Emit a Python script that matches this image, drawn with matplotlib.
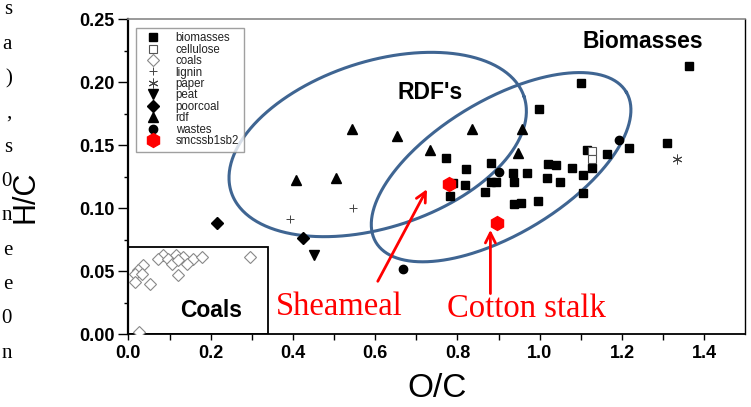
import numpy as np
import matplotlib
matplotlib.use("Agg")
import matplotlib.pyplot as plt

# data
biomass_x = [1.363, 1.101, 0.999, 1.217, 1.310, 1.164, 1.115, 0.773, 0.821, 0.882,
             0.936, 0.970, 1.019, 1.040, 1.079, 1.128, 1.106, 1.018, 1.050, 0.938,
             0.882, 0.894, 0.819, 0.788, 0.866, 0.781, 1.106, 0.938, 0.955, 0.995]
biomass_y = [0.213, 0.199, 0.179, 0.148, 0.152, 0.143, 0.146, 0.140, 0.131, 0.136,
             0.128, 0.128, 0.135, 0.134, 0.132, 0.132, 0.126, 0.124, 0.121, 0.121,
             0.121, 0.121, 0.118, 0.120, 0.113, 0.110, 0.112, 0.103, 0.104, 0.106]
cellulose_x = [1.128, 1.128]
cellulose_y = [0.145, 0.139]
coal_x = [0.084, 0.116, 0.072, 0.096, 0.133, 0.157, 0.179, 0.142, 0.106, 0.121,
          0.035, 0.023, 0.016, 0.033, 0.016, 0.052, 0.295, 0.025, 0.121]
coal_y = [0.063, 0.063, 0.060, 0.060, 0.061, 0.060, 0.061, 0.056, 0.056, 0.047,
          0.055, 0.051, 0.048, 0.048, 0.041, 0.040, 0.061, 0.002, 0.059]
lignin_x = [0.392, 0.545]
lignin_y = [0.091, 0.100]
paper_x = [1.334]
paper_y = [0.139]
peat_x = [0.451]
peat_y = [0.063]
poorcoal_x = [0.215, 0.424]
poorcoal_y = [0.088, 0.076]
rdf_x = [0.543, 0.652, 0.407, 0.504, 0.836, 0.958, 0.734, 0.948]
rdf_y = [0.163, 0.157, 0.122, 0.124, 0.163, 0.163, 0.146, 0.144]
wastes_x = [1.193, 0.900, 0.667]
wastes_y = [0.154, 0.129, 0.052]
sample_x = [0.779, 0.897]
sample_y = [0.119, 0.088]

fig = plt.figure(figsize=(7.51, 4.07), dpi=100)
ax = fig.add_axes([0.171, 0.179, 0.8216, 0.774])
ax.set_xlim(0, 1.5)
ax.set_ylim(0, 0.25)

ax.plot(biomass_x, biomass_y, 's', ms=5.5, color='black', label='biomasses', zorder=3)
ax.plot(cellulose_x, cellulose_y, 's', ms=5.5, mfc='white', mec='#555555', mew=0.8,
        label='cellulose', zorder=3)
ax.plot(coal_x, coal_y, 'D', ms=6, mfc='white', mec='#888888', mew=0.8, label='coals', zorder=3)
ax.plot(lignin_x, lignin_y, '+', ms=6, color='#444444', mew=0.7, label='lignin', zorder=3)
ax.plot(paper_x, paper_y, marker=(6, 2, 0), ls='none', ms=7, color='#444444', mew=0.7,
        label='paper', zorder=3)
ax.plot(peat_x, peat_y, 'v', ms=7, color='black', label='peat', zorder=3)
ax.plot(poorcoal_x, poorcoal_y, 'D', ms=6, color='black', label='poorcoal', zorder=3)
ax.plot(rdf_x, rdf_y, '^', ms=7, color='black', label='rdf', zorder=3)
ax.plot(wastes_x, wastes_y, 'o', ms=6, color='black', label='wastes', zorder=3)
ax.plot(sample_x, sample_y, 'h', ms=10, color='red', label='smcssb1sb2', zorder=4)


def ellipse(cx, cy, a, b, ang):
    # a, b in screen pixels, ang in screen degrees
    pos = ax.get_position()
    wpx = pos.width * fig.get_figwidth() * fig.dpi
    hpx = pos.height * fig.get_figheight() * fig.dpi
    kx = 1.5 / wpx
    ky = 0.25 / hpx
    t = np.linspace(0, 2 * np.pi, 400)
    p = np.radians(ang)
    ex = cx + kx * (a * np.cos(t) * np.cos(p) - b * np.sin(t) * np.sin(p))
    ey = cy + ky * (a * np.cos(t) * np.sin(p) + b * np.sin(t) * np.cos(p))
    ax.plot(ex, ey, color='#3f6592', lw=2.2, zorder=2)


ellipse(0.606, 0.1505, 154, 83, 18)
ellipse(0.906, 0.1325, 146, 67, 31)

# coals box
ax.add_patch(plt.Rectangle((0, 0), 0.339, 0.069, fill=False, ec='black', lw=1.3, zorder=2))

ax.text(0.734, 0.192, "RDF's", fontsize=16.5, fontweight='bold', family='Liberation Sans',
        ha='center', va='center')
ax.text(1.251, 0.232, "Biomasses", fontsize=16.5, fontweight='bold', family='Liberation Sans',
        ha='center', va='center')
ax.text(0.201, 0.019, "Coals", fontsize=16.5, fontweight='bold', family='Liberation Sans',
        ha='center', va='center')

ax.annotate('', xy=(0.729, 0.117), xytext=(0.603, 0.040),
            arrowprops=dict(arrowstyle='->', color='red', lw=2, mutation_scale=18))
ax.annotate('', xy=(0.880, 0.085), xytext=(0.880, 0.030),
            arrowprops=dict(arrowstyle='->', color='red', lw=2, mutation_scale=18))
ax.text(0.512, 0.022, "Sheameal", fontsize=23.5, color='red', family='Liberation Serif',
        ha='center', va='center')
ax.text(0.968, 0.020, "Cotton stalk", fontsize=23.5, color='red', family='Liberation Serif',
        ha='center', va='center')

ax.set_xticks(np.arange(0, 1.41, 0.2))
ax.set_xticks(np.arange(0.1, 1.5, 0.2), minor=True)
ax.set_yticks(np.arange(0, 0.251, 0.05))
ax.set_yticks(np.arange(0.025, 0.25, 0.05), minor=True)
ax.set_xticklabels(['%.1f' % v for v in np.arange(0, 1.41, 0.2)])
ax.set_yticklabels(['%.2f' % v for v in np.arange(0, 0.251, 0.05)])
for lab in ax.get_xticklabels() + ax.get_yticklabels():
    lab.set_fontweight('bold')
    lab.set_family('Liberation Sans')
    lab.set_fontsize(13)
ax.tick_params(axis='x', which='both', direction='out', length=4, width=1, pad=4)
ax.tick_params(axis='y', which='major', direction='out', length=7, width=1, pad=3)
ax.tick_params(axis='y', which='minor', direction='out', length=3, width=1)

ax.spines['left'].set_linewidth(1.6)
ax.spines['bottom'].set_linewidth(1.3)
ax.spines['right'].set_linewidth(1.0)
ax.spines['top'].set_linewidth(1.2)
ax.spines['top'].set_color('#888888')

ax.set_xlabel('O/C', fontsize=24, family='Liberation Sans', va='center')
ax.set_ylabel('H/C', fontsize=22, family='Liberation Sans', va='center')
ax.xaxis.set_label_coords(0.5, -0.171)
ax.yaxis.set_label_coords(-0.166, 0.435)

leg = ax.legend(loc='upper left', bbox_to_anchor=(0.013, 0.973), borderaxespad=0,
                labelspacing=-0.05, handlelength=2.0, handletextpad=1.0,
                borderpad=0.4, fancybox=False, edgecolor='#888888', markerscale=1.0,
                prop={'family': 'Liberation Sans', 'size': 8.3})
leg.get_frame().set_linewidth(1.0)
for txt in leg.get_texts():
    txt.set_color('#222222')

# cut-off text from the page on the left margin
margin_chars = ['s', 'a', ')', ',', 's', '0', 'n', 'e', 'e', '0', 'n']
for i, ch in enumerate(margin_chars):
    fig.text(12 / 751, 1 - (10 + i * 34.3) / 407, ch, fontsize=15, family='Liberation Serif',
             ha='right', va='center')

fig.savefig('out.png', dpi=100)
